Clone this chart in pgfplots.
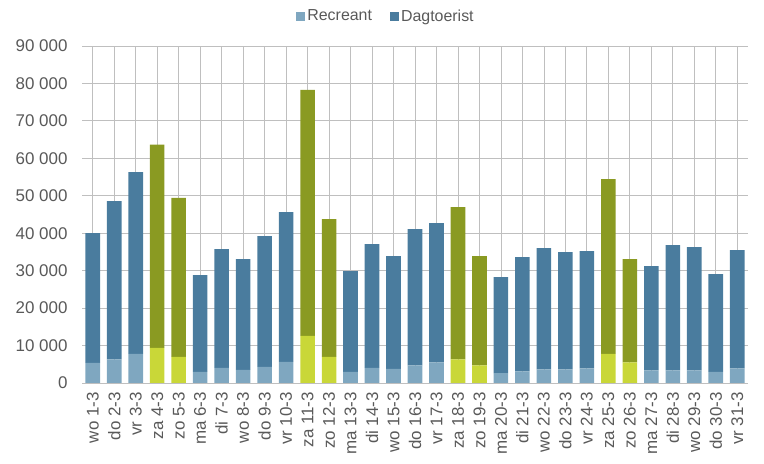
\documentclass[border=0pt]{standalone}
\usepackage{pgfplots}
\pgfplotsset{compat=1.18}
\usepackage{pgfplotstable}
\usepackage{fontspec}
\setmainfont{Liberation Sans}
\definecolor{rec}{HTML}{7FA7C0}
\definecolor{dag}{HTML}{4A7C9E}
\definecolor{recw}{HTML}{C9D738}
\definecolor{dagw}{HTML}{8A9A22}
\definecolor{txt}{HTML}{595959}
\definecolor{grid}{HTML}{D9D9D9}
\pgfplotstableread{
x rw re dw de
0 5350 0 34650 0
1 6340 0 42260 0
2 7750 0 48590 0
3 0 9360 0 54280
4 0 6950 0 42500
5 2940 0 25860 0
6 4010 0 31740 0
7 3480 0 29590 0
8 4280 0 34940 0
9 5620 0 40020 0
10 0 12570 0 65690
11 0 6950 0 36820
12 2940 0 26930 0
13 4010 0 33080 0
14 3740 0 30140 0
15 4730 0 36370 0
16 5530 0 37170 0
17 0 6340 0 40640
18 0 4730 0 29150
19 2670 0 25590 0
20 3130 0 30480 0
21 3660 0 32360 0
22 3660 0 31290 0
23 3930 0 31290 0
24 0 7750 0 46710
25 0 5530 0 27540
26 3400 0 27800 0
27 3400 0 33420 0
28 3400 0 32880 0
29 2940 0 26120 0
30 3930 0 31550 0
}\data
\begin{document}
\begin{tikzpicture}
\useasboundingbox (0,0) rectangle (764bp,464bp);
\begin{axis}[
  at={(82bp,81bp)}, anchor=south west,
  scale only axis, width=666bp, height=337bp,
  ybar stacked, bar width=0.68,
  xmin=-0.5, xmax=30.5, ymin=0, ymax=90000,
  ytick={0,10000,...,90000},
  xtick={0,...,30},
  xticklabels={wo 1-3,do 2-3,vr 3-3,za 4-3,zo 5-3,ma 6-3,di 7-3,wo 8-3,do 9-3,vr 10-3,za 11-3,zo 12-3,ma 13-3,di 14-3,wo 15-3,do 16-3,vr 17-3,za 18-3,zo 19-3,ma 20-3,di 21-3,wo 22-3,do 23-3,vr 24-3,za 25-3,zo 26-3,ma 27-3,di 28-3,wo 29-3,do 30-3,vr 31-3},
  major tick length=0pt,
  axis line style={draw=none},
  ymajorgrids, grid style={grid, line width=0.8bp},
  scaled y ticks=false,
  /pgf/number format/assume math mode=true,
  /pgf/number format/.cd, 1000 sep={\ }, /pgfplots/.cd,
  tick label style={font=\fontsize{17}{20}\selectfont, text=txt},
  yticklabel style={xshift=-11bp},
  xticklabel style={rotate=90, anchor=east, xshift=-8bp, inner sep=1bp},
  legend style={at={(0.4565,1.089)}, anchor=center, draw=none, fill=none,
    font=\fontsize{16}{19}\selectfont, text=txt, legend columns=2,
    /tikz/every even column/.append style={column sep=16bp}},
  legend image code/.code={\fill[#1] (0bp,-4.5bp) rectangle (9bp,4.5bp);},
  every axis plot/.append style={draw=none},
]
\addplot[fill=rec] table[x=x,y=rw]{\data};
\addplot[fill=recw] table[x=x,y=re]{\data};
\addplot[fill=dag] table[x=x,y=dw]{\data};
\addplot[fill=dagw] table[x=x,y=de]{\data};
\legend{Recreant,,Dagtoerist,}
\end{axis}
\end{tikzpicture}
\end{document}
